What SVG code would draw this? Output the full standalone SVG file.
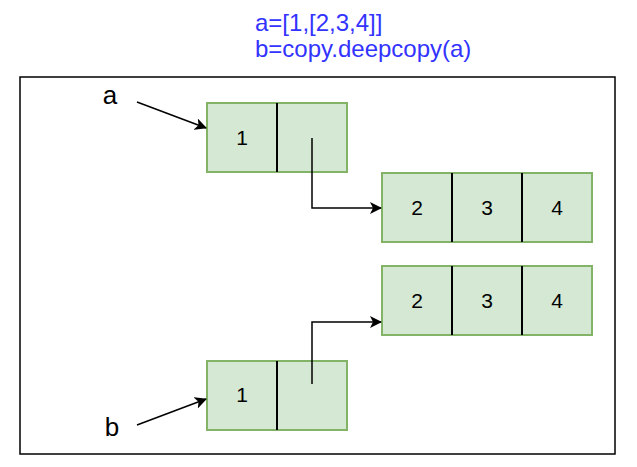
<svg xmlns="http://www.w3.org/2000/svg" width="637" height="467" viewBox="0 0 637 467">
<style>
.cell{fill:#d5e8d4;stroke:#82b366;stroke-width:2}
.div{stroke:#000;stroke-width:2}
.t{font-family:"Liberation Sans",Arial,sans-serif;font-size:21px;text-anchor:middle;fill:#000}
.lbl{font-family:"Liberation Sans",Arial,sans-serif;font-size:26px;text-anchor:middle;fill:#000}
.code{font-family:"Liberation Sans",Arial,sans-serif;font-size:24px;fill:#3333ff}
.conn{fill:none;stroke:#000;stroke-width:1.5}
</style>
<defs>
<marker id="ah" markerWidth="12" markerHeight="12" refX="11" refY="6" orient="auto" markerUnits="userSpaceOnUse" viewBox="0 0 12 12">
<path d="M0,0 L12,6 L0,12 L3,6 Z" fill="#000"/>
</marker>
</defs>
<g id="title">
<text class="code" x="255" y="31">a=[1,[2,3,4]]</text>
<text class="code" x="255" y="57">b=copy.deepcopy(a)</text>
</g>
<rect id="frame" x="20" y="77" width="595" height="377" fill="#fff" stroke="#000" stroke-width="1.5"/>
<g id="label-a"><text class="lbl" x="110" y="104">a</text></g>
<g id="label-b"><text class="lbl" x="112" y="436">b</text></g>
<g id="node-a">
<rect class="cell" x="207" y="103" width="140" height="69"/>
<line class="div" x1="277" y1="103" x2="277" y2="172"/>
<text class="t" x="242" y="145">1</text>
</g>
<g id="list-a">
<rect class="cell" x="382" y="173" width="210" height="69"/>
<line class="div" x1="452" y1="173" x2="452" y2="242"/>
<line class="div" x1="522" y1="173" x2="522" y2="242"/>
<text class="t" x="417" y="215">2</text>
<text class="t" x="487" y="215">3</text>
<text class="t" x="557" y="215">4</text>
</g>
<g id="list-b">
<rect class="cell" x="382" y="266" width="210" height="69"/>
<line class="div" x1="452" y1="266" x2="452" y2="335"/>
<line class="div" x1="522" y1="266" x2="522" y2="335"/>
<text class="t" x="417" y="308">2</text>
<text class="t" x="487" y="308">3</text>
<text class="t" x="557" y="308">4</text>
</g>
<g id="node-b">
<rect class="cell" x="207" y="361" width="140" height="69"/>
<line class="div" x1="277" y1="361" x2="277" y2="430"/>
<text class="t" x="242" y="402">1</text>
</g>
<g id="connectors">
<line class="conn" x1="137" y1="102" x2="206" y2="128" marker-end="url(#ah)"/>
<line class="conn" x1="137" y1="425" x2="206" y2="399" marker-end="url(#ah)"/>
<polyline class="conn" points="312,138 312,208 381,208" marker-end="url(#ah)"/>
<polyline class="conn" points="312,384 312,322 381,322" marker-end="url(#ah)"/>
</g>
</svg>
